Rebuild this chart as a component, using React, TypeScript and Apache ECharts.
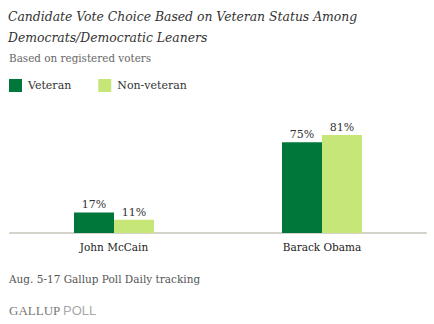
import React, { useEffect, useRef } from "react";
import * as echarts from "echarts";

const categories = ["John McCain", "Barack Obama"];
const seriesNames = ["Veteran", "Non-veteran"];
const veteran = [17, 75];
const nonVeteran = [11, 81];
const colors = ["#00773A", "#C6E777"];

const titleText = "Candidate Vote Choice Based on Veteran Status Among\nDemocrats/Democratic Leaners";
const subtitleText = "Based on registered voters";
const footerText = "Aug. 5-17 Gallup Poll Daily tracking";

const SERIF = "'DejaVu Serif', serif";

export default function App() {
  const ref = useRef<HTMLDivElement>(null);
  useEffect(() => {
    if (!ref.current) return;
    const chart = echarts.init(ref.current, null, { renderer: "svg" });
    const labelStyle = {
      show: true,
      position: "top" as const,
      distance: 2,
      fontFamily: SERIF,
      fontSize: 11,
      color: "#333",
      formatter: (p: any) => p.value + "%",
    };
    chart.setOption({
      animation: false,
      backgroundColor: "#fff",
      title: [
        {
          text: titleText,
          left: 8,
          top: 6,
          textStyle: {
            fontFamily: SERIF,
            fontStyle: "italic",
            fontWeight: "normal",
            fontSize: 12.4,
            lineHeight: 21,
            color: "#333",
          },
          padding: 0,
        },
        {
          text: subtitleText,
          left: 9,
          top: 53,
          textStyle: { fontFamily: SERIF, fontWeight: "normal", fontSize: 10.4, color: "#666" },
          padding: 0,
        },
        {
          text: footerText,
          left: 9,
          top: 273,
          textStyle: { fontFamily: SERIF, fontWeight: "normal", fontSize: 10.5, color: "#555" },
          padding: 0,
        },
      ],
      graphic: [
        {
          type: "text",
          left: 9,
          top: 304,
          style: { text: "GALLUP", font: "13px 'Liberation Serif', serif", fill: "#777" },
        },
        {
          type: "text",
          left: 63,
          top: 304,
          style: { text: "POLL", font: "13px 'Liberation Sans', sans-serif", fill: "#aaa" },
        },
      ],
      legend: {
        left: 9,
        top: 79,
        padding: 0,
        itemWidth: 13,
        itemHeight: 13,
        itemGap: 27,
        icon: "rect",
        textStyle: { fontFamily: SERIF, fontSize: 11, color: "#333", padding: [0, 0, 0, 1] },
        data: seriesNames,
      },
      grid: { left: 10, right: 8, top: 112, bottom: 91, containLabel: false },
      xAxis: {
        type: "category",
        data: categories,
        axisLine: { show: true, lineStyle: { color: "#d3d3cb", width: 2 } },
        axisTick: { show: false },
        axisLabel: { margin: 8, fontFamily: SERIF, fontSize: 10.5, color: "#222" },
      },
      yAxis: {
        type: "value",
        min: 0,
        max: 100,
        show: false,
        splitLine: { show: false },
      },
      series: [
        {
          name: seriesNames[0],
          type: "bar",
          data: veteran,
          barWidth: 40,
          barGap: "0%",
          itemStyle: { color: colors[0] },
          label: labelStyle,
        },
        {
          name: seriesNames[1],
          type: "bar",
          data: nonVeteran,
          barWidth: 40,
          barGap: "0%",
          itemStyle: { color: colors[1] },
          label: labelStyle,
        },
      ],
    });
    return () => chart.dispose();
  }, []);
  return (
    <div
      ref={ref}
      style={{ position: "fixed", left: 0, top: 0, width: 434, height: 324 }}
    />
  );
}
